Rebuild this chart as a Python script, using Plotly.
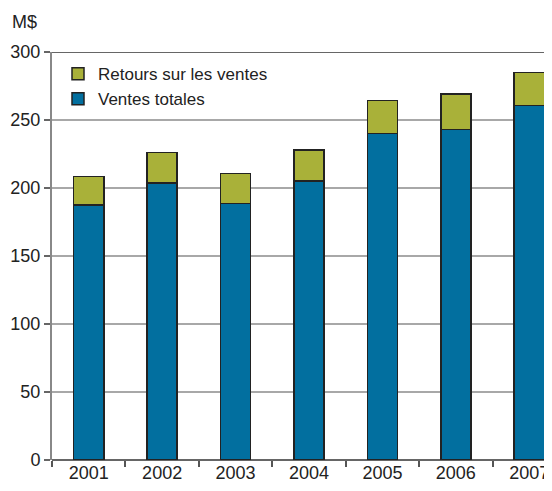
import plotly.graph_objects as go

years = ["2001", "2002", "2003", "2004", "2005", "2006", "2007"]
ventes_totales = [187.5, 203.5, 188.5, 205, 240, 243, 260.5]
retours_ventes = [21, 22.5, 22, 23, 24.5, 26, 24.5]
y_ticks = [0, 50, 100, 150, 200, 250, 300]

FONT = "Liberation Sans Narrow, Arial Narrow, Liberation Sans, sans-serif"
BLUE = "#026F9F"
OLIVE = "#A9B139"

fig = go.Figure()
fig.add_trace(
    go.Bar(
        x=years,
        y=ventes_totales,
        name="Ventes totales",
        marker=dict(color=BLUE, line=dict(color="#222222", width=1.5)),
        width=0.41,
    )
)
fig.add_trace(
    go.Bar(
        x=years,
        y=retours_ventes,
        name="Retours sur les ventes",
        marker=dict(color=OLIVE, line=dict(color="#222222", width=1.5)),
        width=0.41,
    )
)

# the page body has an 8px margin, so the figure is a little smaller than the window
fig.update_layout(
    width=544,
    height=483,
    barmode="stack",
    margin=dict(l=44, r=0, t=44, b=31, autoexpand=False),
    plot_bgcolor="white",
    paper_bgcolor="white",
    font=dict(family=FONT, size=18, color="#222222"),
    showlegend=True,
    legend=dict(
        x=0.012,
        y=0.99,
        xanchor="left",
        yanchor="top",
        traceorder="reversed",
        bgcolor="rgba(0,0,0,0)",
        font=dict(size=17),
        itemwidth=30,
        tracegroupgap=0,
    ),
)
fig.update_xaxes(
    type="category",
    range=[-0.5, 6.31],
    automargin=False,
    showgrid=False,
    ticks="outside",
    tickson="boundaries",
    ticklen=6,
    tickcolor="#555555",
    tickwidth=1.5,
    showline=False,
    tickfont=dict(size=18),
)
fig.update_yaxes(
    range=[0, 300],
    tickvals=y_ticks,
    automargin=False,
    showgrid=True,
    gridcolor="#A8A8A8",
    gridwidth=1.5,
    zeroline=True,
    zerolinecolor="#666666",
    zerolinewidth=2,
    showline=True,
    linecolor="#888888",
    linewidth=2,
    ticks="outside",
    ticklen=6,
    tickcolor="#666666",
    tickwidth=1.5,
    tickfont=dict(size=18),
)
# dark top border of the plot frame
fig.add_shape(
    type="line",
    xref="paper",
    yref="y",
    x0=0,
    x1=1,
    y0=300,
    y1=300,
    line=dict(color="#333333", width=1.5),
    layer="above",
)
fig.add_annotation(
    text="M$",
    xref="paper",
    yref="paper",
    x=-0.085,
    y=1.0735,
    xanchor="left",
    yanchor="middle",
    showarrow=False,
    font=dict(size=18),
)

fig.write_html("out.html")
